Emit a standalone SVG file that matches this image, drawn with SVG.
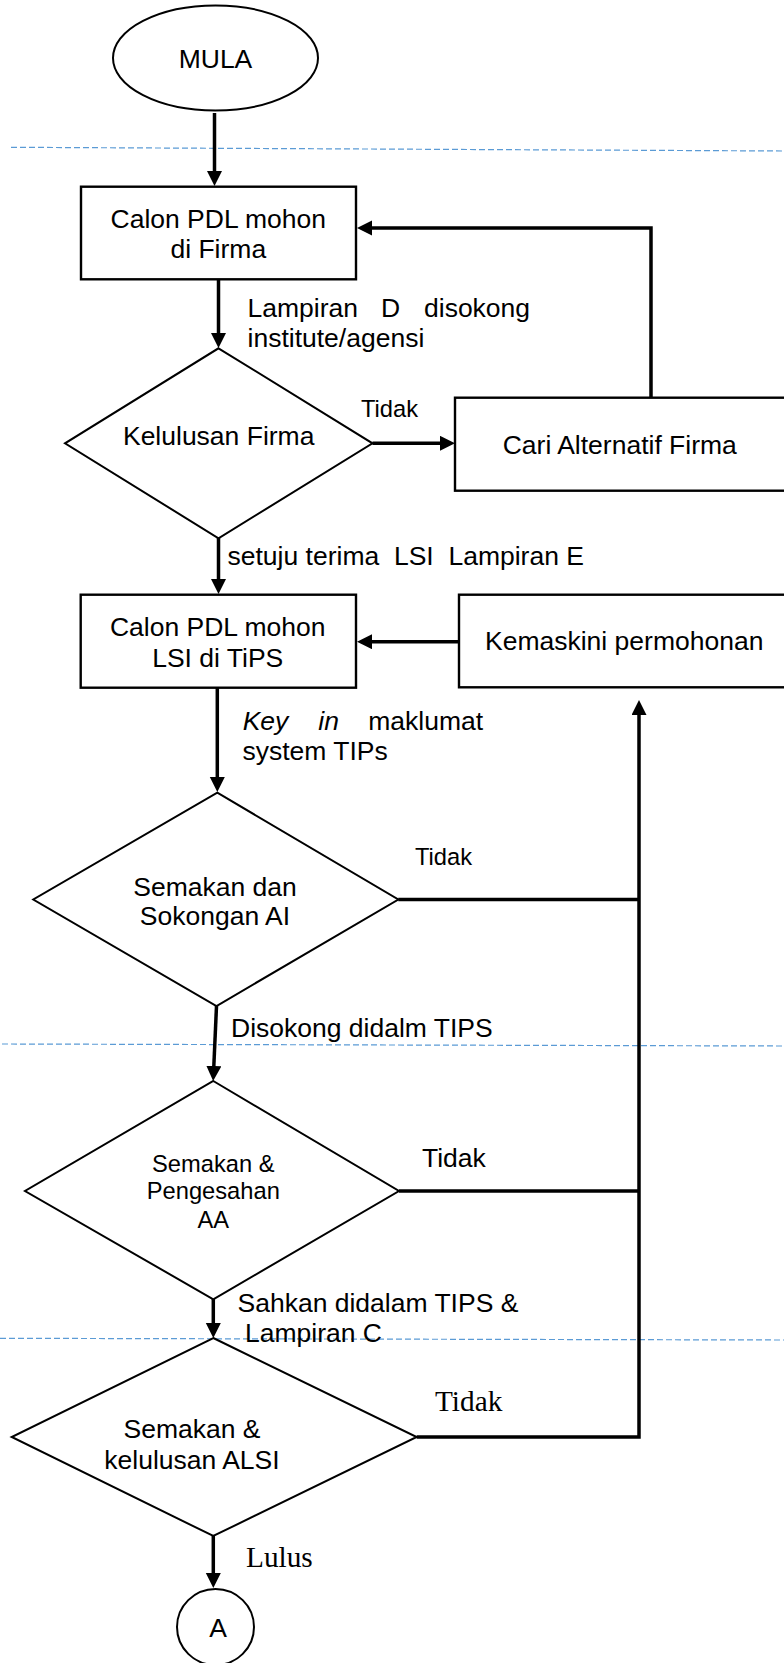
<svg xmlns="http://www.w3.org/2000/svg" width="784" height="1663" viewBox="0 0 784 1663">
<style>
text{font-family:"Liberation Sans",Arial,sans-serif;font-size:26.5px;fill:#000;white-space:pre}
.serif{font-family:"Liberation Serif","Times New Roman",serif;font-size:29.3px}
.sm{font-size:23.7px}
.mid{text-anchor:middle}
.shape{fill:#fff;stroke:#000;stroke-width:2}
.box{fill:#fff;stroke:#000;stroke-width:2.4}
.conn{fill:none;stroke:#000;stroke-width:3.5}
.guide{fill:none;stroke:#5B9BD5;stroke-width:1.2;stroke-dasharray:6 3}
</style>
<defs>
<marker id="ah" markerUnits="userSpaceOnUse" markerWidth="16" markerHeight="16" refX="5" refY="7.5" orient="auto">
<path d="M0,0 L15,7.5 L0,15 Z" fill="#000"/>
</marker>
</defs>
<g id="guides">
<line class="guide" x1="11" y1="147.3" x2="784" y2="151"/>
<line class="guide" x1="2" y1="1044" x2="784" y2="1046"/>
<line class="guide" x1="0" y1="1338.3" x2="784" y2="1340"/>
</g>
<g id="connectors">
<line class="conn" x1="214.5" y1="113" x2="214.5" y2="176" marker-end="url(#ah)"/>
<line class="conn" x1="218.5" y1="280" x2="218.5" y2="338" marker-end="url(#ah)"/>
<line class="conn" x1="372.5" y1="443.3" x2="445" y2="443.3" marker-end="url(#ah)"/>
<polyline class="conn" points="651,398 651,228 367,228" marker-end="url(#ah)"/>
<line class="conn" x1="218.5" y1="538" x2="218.5" y2="584" marker-end="url(#ah)"/>
<line class="conn" x1="459" y1="641.7" x2="367" y2="641.7" marker-end="url(#ah)"/>
<line class="conn" x1="217.3" y1="688" x2="217.3" y2="782" marker-end="url(#ah)"/>
<line class="conn" x1="216.5" y1="1006" x2="213.6" y2="1071" marker-end="url(#ah)"/>
<line class="conn" x1="213.3" y1="1299" x2="213.3" y2="1328" marker-end="url(#ah)"/>
<line class="conn" x1="213.3" y1="1536" x2="213.3" y2="1578" marker-end="url(#ah)"/>
<line class="conn" x1="398.3" y1="899.5" x2="639" y2="899.5"/>
<line class="conn" x1="399" y1="1191" x2="639" y2="1191"/>
<polyline class="conn" points="416.7,1437 639,1437 639,710" marker-end="url(#ah)"/>
</g>
<g id="labels">
<text x="247.5" y="316.7">Lampiran</text>
<text x="381" y="316.7">D</text>
<text x="424" y="316.7">disokong</text>
<text x="247.5" y="346.7">institute/agensi</text>
<text class="sm" x="361" y="416.7">Tidak</text>
<text x="227.5" y="565">setuju terima  LSI  Lampiran E</text>
<text x="242.7" y="730" font-style="italic">Key</text>
<text x="318.3" y="730" font-style="italic">in</text>
<text x="368.3" y="730">maklumat</text>
<text x="242.5" y="760">system TIPs</text>
<text class="sm" x="415" y="865">Tidak</text>
<text x="231" y="1036.7">Disokong didalm TIPS</text>
<text x="422" y="1166.5">Tidak</text>
<text x="237.5" y="1311.7">Sahkan didalam TIPS &amp;</text>
<text x="245" y="1341.7">Lampiran C</text>
<text class="serif" x="435" y="1410.5">Tidak</text>
<text class="serif" x="246" y="1566.7">Lulus</text>
</g>
<g id="mula">
<ellipse class="shape" cx="215.5" cy="58" rx="102.5" ry="52.5"/>
<text class="mid" x="215.5" y="68.3" font-size="26">MULA</text>
</g>
<g id="calon-firma">
<rect class="box" x="81" y="186.7" width="275" height="92.6"/>
<text class="mid" x="218.3" y="227.7">Calon PDL mohon</text>
<text class="mid" x="218.3" y="257.7">di Firma</text>
</g>
<g id="kelulusan-firma">
<polygon class="shape" points="218.5,348.3 372.5,443.3 218.5,538.3 65,443.3"/>
<text class="mid" x="218.7" y="445">Kelulusan Firma</text>
</g>
<g id="cari-alternatif">
<rect class="box" x="455" y="397.7" width="340" height="93"/>
<text x="502.7" y="454">Cari Alternatif Firma</text>
</g>
<g id="calon-lsi">
<rect class="box" x="80.7" y="594.7" width="275.3" height="93"/>
<text class="mid" x="217.7" y="635.7">Calon PDL mohon</text>
<text class="mid" x="217.7" y="666.7">LSI di TiPS</text>
</g>
<g id="kemaskini">
<rect class="box" x="459" y="594.7" width="340" height="92.6"/>
<text x="485" y="650">Kemaskini permohonan</text>
</g>
<g id="semakan-ai">
<polygon class="shape" points="217.3,792.7 398.3,899.5 216.5,1006 33.3,899.5"/>
<text class="mid" x="215" y="896">Semakan dan</text>
<text class="mid" x="215" y="925">Sokongan AI</text>
</g>
<g id="semakan-aa">
<polygon class="shape" points="213.3,1081 399,1191 213.3,1299.3 25,1191"/>
<text class="mid sm" x="213.3" y="1171.7">Semakan &amp;</text>
<text class="mid sm" x="213.3" y="1199.3">Pengesahan</text>
<text class="mid sm" x="213.3" y="1227.7">AA</text>
</g>
<g id="semakan-alsi">
<polygon class="shape" points="213.3,1338 416.7,1437 213.3,1536 11.7,1437"/>
<text class="mid" x="192" y="1438.3">Semakan &amp;</text>
<text class="mid" x="192" y="1469.3">kelulusan ALSI</text>
</g>
<g id="connector-a">
<ellipse class="shape" cx="215.5" cy="1627" rx="38.5" ry="38"/>
<text class="mid" x="218" y="1637.3" font-size="25">A</text>
</g>
</svg>
